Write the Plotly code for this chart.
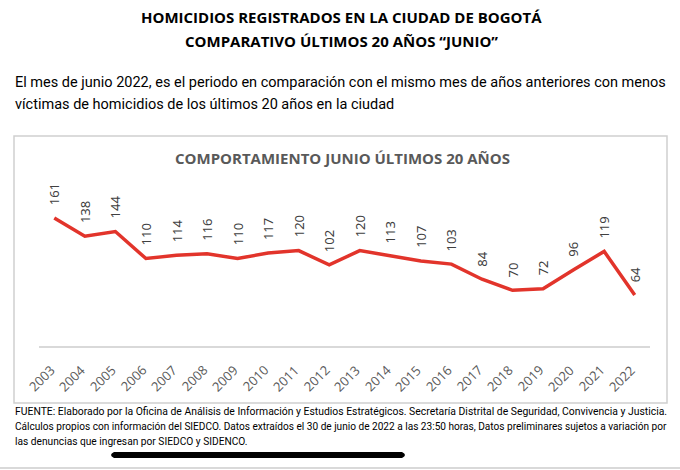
import plotly.graph_objects as go

years = [str(y) for y in range(2003, 2023)]
homicides = [161, 138, 144, 110, 114, 116, 110, 117, 120, 102,
             120, 113, 107, 103, 84, 70, 72, 96, 119, 64]

title1 = "HOMICIDIOS REGISTRADOS EN LA CIUDAD DE BOGOTÁ"
title2 = "COMPARATIVO ÚLTIMOS 20 AÑOS “JUNIO”"
para1 = "El mes de junio 2022, es el periodo en comparación con el mismo mes de años anteriores con menos"
para2 = "víctimas de homicidios de los últimos 20 años en la ciudad"
chart_title = "COMPORTAMIENTO JUNIO ÚLTIMOS 20 AÑOS"
foot1 = "FUENTE: Elaborado por la Oficina de Análisis de Información y Estudios Estratégicos. Secretaría Distrital de Seguridad, Convivencia y Justicia."
foot2 = "Cálculos propios con información del SIEDCO. Datos extraídos el 30 de junio de 2022 a las 23:50 horas, Datos preliminares sujetos a variación por"
foot3 = "las denuncias que ingresan por SIEDCO y SIDENCO."

W, H = 680, 470
L, R, T, B = 39, 30, 187, 124
PW, PH = W - L - R, H - T - B

def px(x):
    return (x - L) / PW

def py(y):
    return (H - B - y) / PH

TEXTF = "Roboto, Open Sans, sans-serif"
BOLDF = "Open Sans, sans-serif"

idx = list(range(len(years)))

fig = go.Figure()
fig.add_trace(go.Scatter(
    x=idx, y=homicides, mode="lines",
    line=dict(color="#e2342b", width=3.5),
    text=years, hovertemplate="%{text}: %{y}<extra></extra>", showlegend=False,
))

annotations = []
for i, v in zip(idx, homicides):
    annotations.append(dict(
        x=i, y=v, xref="x", yref="y", text=str(v), textangle=-90,
        showarrow=False, xanchor="center", yanchor="bottom", yshift=11,
        font=dict(family="Noto Sans, DejaVu Sans, sans-serif", size=13, color="#404040"),
    ))
# category tick labels, rotated -45 degrees
for i, yr in zip(idx, years):
    annotations.append(dict(
        x=i, y=0, xref="x", yref="y", text=yr, textangle=-45,
        showarrow=False, xanchor="right", yanchor="top", xshift=6, yshift=-14,
        borderpad=0,
        font=dict(family="Open Sans, sans-serif", size=13, color="#595959"),
    ))

def txt(text, x, y, size, bold=False, color="#000000", xanchor="left", family=TEXTF):
    t = f"<b>{text}</b>" if bold else text
    annotations.append(dict(
        x=px(x), y=py(y), xref="paper", yref="paper", text=t, showarrow=False,
        xanchor=xanchor, yanchor="middle", borderpad=0,
        font=dict(family=family, size=size, color=color),
    ))

txt(title1, 341, 17, 15, bold=True, xanchor="center", family=BOLDF)
txt(title2, 341, 41, 15, bold=True, xanchor="center", family=BOLDF)
txt(para1, 14, 83, 14.5)
txt(para2, 14, 105, 14.5)
txt(chart_title, 342, 158, 15, bold=True, color="#595959", xanchor="center", family=BOLDF)
txt(foot1, 14, 411, 10.4)
txt(foot2, 14, 426, 10.1)
txt(foot3, 14, 441, 10.2)

shapes = [
    dict(type="rect", xref="paper", yref="paper",
         x0=px(14), x1=px(667), y0=py(136), y1=py(403),
         line=dict(color="#d0d0d0", width=1.5), layer="below"),
    dict(type="line", xref="paper", yref="paper",
         x0=px(0), x1=px(680), y0=py(468), y1=py(468),
         line=dict(color="#cccccc", width=1.5)),
]
x0b, x1b, yc, r = 111, 405, 455, 3
shapes.append(dict(
    type="path", xref="paper", yref="paper",
    path=(f"M {px(x0b + r)} {py(yc - r)} L {px(x1b - r)} {py(yc - r)} "
          f"Q {px(x1b + r)} {py(yc)} {px(x1b - r)} {py(yc + r)} "
          f"L {px(x0b + r)} {py(yc + r)} "
          f"Q {px(x0b - r)} {py(yc)} {px(x0b + r)} {py(yc - r)} Z"),
    fillcolor="#000000", line=dict(width=0),
))

fig.update_layout(
    width=W, height=H,
    margin=dict(l=L, r=R, t=T, b=B, pad=0),
    paper_bgcolor="#ffffff", plot_bgcolor="#ffffff",
    xaxis=dict(
        range=[-0.5, len(years) - 0.5], tickvals=idx, ticktext=years,
        showgrid=False, zeroline=False, showticklabels=False,
        showline=True, linecolor="#d9d9d9", linewidth=1.5,
        ticks="", fixedrange=True,
    ),
    yaxis=dict(range=[0, 200], visible=False, fixedrange=True),
    annotations=annotations,
    shapes=shapes,
)

fig.write_html("out.html", config={"displayModeBar": False},
               post_script="document.body.style.margin='0';document.body.style.overflow='hidden';")
